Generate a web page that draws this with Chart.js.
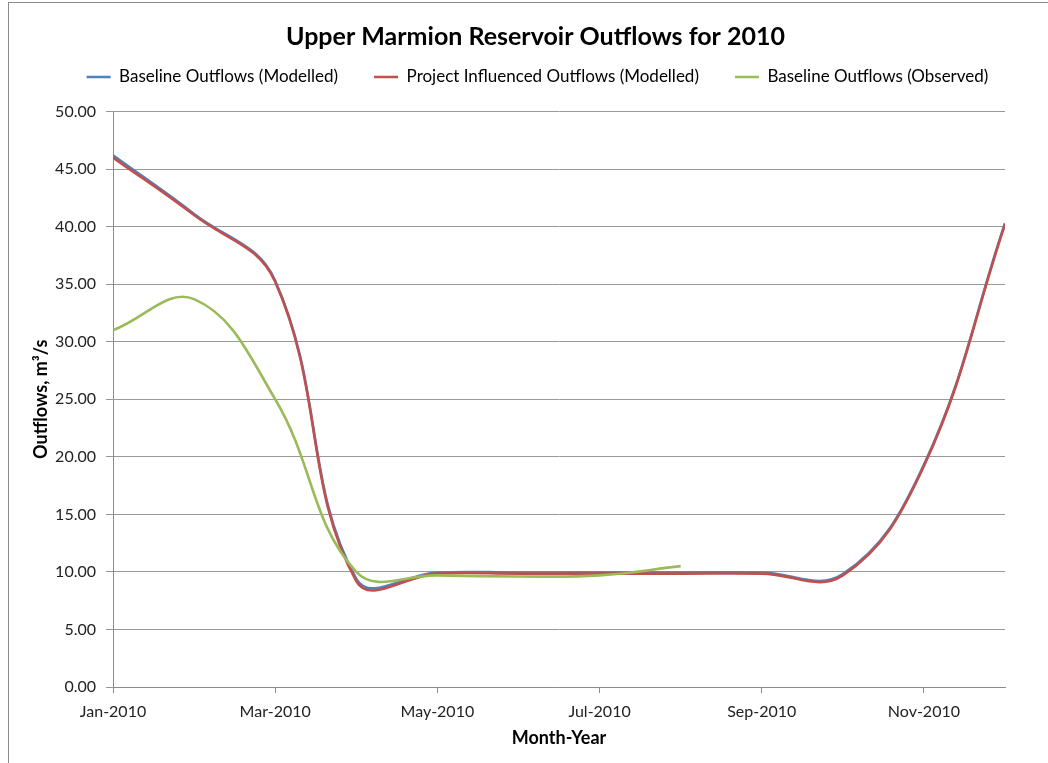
<!DOCTYPE html>
<html>
<head>
<meta charset="utf-8">
<script src="https://cdn.jsdelivr.net/npm/chart.js@4"></script>
<style>
    html, body { margin: 0; padding: 0; background: #ffffff; }
    #wrap { position: relative; width: 1048px; height: 763px; }
</style>
</head>
<body>
<div id="wrap"><canvas id="chart" width="1048" height="763"></canvas></div>
<script>

// month labels on the x axis (only the even ones get a tick)
const months = ["Jan-2010", "Feb-2010", "Mar-2010", "Apr-2010", "May-2010", "Jun-2010",
                "Jul-2010", "Aug-2010", "Sep-2010", "Oct-2010", "Nov-2010", "Dec-2010"];

// outflows, m3/s
const baselineModelled = [46.2, 41.1, 35.3, 9.4, 9.95, 9.95, 9.95, 9.95, 9.95, 9.8, 19.3, 40.3];
const projectModelled  = [46.0, 41.0, 35.2, 9.2, 9.85, 9.85, 9.85, 9.85, 9.85, 9.7, 19.2, 40.2];
const baselineObserved = [31.0, 33.7, 25.0, 10.0, 9.7, 9.6, 9.7, 10.5];

const toPoints = (arr) => arr.map((v, i) => ({ x: i, y: v }));

const FONT = "Lato, 'Open Sans', sans-serif";

// white background + the grey chart frame (left and top edges show)
let frame = {
    id: 'frame',
    beforeDraw: function(chart) {
        let ctx = chart.ctx;
        ctx.save();
        ctx.fillStyle = "#ffffff";
        ctx.fillRect(0, 0, chart.width, chart.height);
        ctx.strokeStyle = "#8c8c8c";
        ctx.lineWidth = 1;
        ctx.strokeRect(8.5, 2.5, chart.width + 20, chart.height + 20);
        ctx.restore();
    }
};

// make the legend box taller so the plot starts lower,
// and push title + legend a bit to the right like the original
let headerLayout = {
    id: 'headerLayout',
    beforeInit: function(chart) {
        const fit = chart.legend.fit;
        chart.legend.fit = function() {
            fit.bind(chart.legend)();
            this.height = 79;
        };
    },
    afterLayout: function(chart) {
        chart.titleBlock.left += 18;
        chart.titleBlock.right += 18;
        chart.legend.left += 20;
        chart.legend.right += 20;
    }
};

let chart = new Chart(document.getElementById('chart'), {
    type: 'line',
    data: {
        datasets: [
            {
                label: 'Baseline Outflows (Modelled)',
                data: toPoints(baselineModelled),
                borderColor: '#4F81BD',
                backgroundColor: '#4F81BD',
                order: 2
            },
            {
                label: 'Project Influenced Outflows (Modelled)',
                data: toPoints(projectModelled),
                borderColor: '#C0504D',
                backgroundColor: '#C0504D',
                order: 1
            },
            {
                label: 'Baseline Outflows (Observed)',
                data: toPoints(baselineObserved),
                borderColor: '#9BBB59',
                backgroundColor: '#9BBB59',
                order: 0
            }
        ]
    },
    options: {
        responsive: false,
        animation: false,
        devicePixelRatio: 1,
        elements: {
            point: { radius: 0, borderWidth: 2.5 },   // borderWidth only used by the legend line
            line: { borderWidth: 2.6, tension: 0.4, fill: false }
        },
        layout: {
            padding: { left: 30, right: 43, top: 22, bottom: 14 }
        },
        plugins: {
            tooltip: { enabled: false },
            title: {
                display: true,
                text: 'Upper Marmion Reservoir Outflows for 2010',
                color: '#000000',
                font: { family: FONT, size: 25, weight: 'bold' },
                padding: { top: 0, bottom: -19.5 }
            },
            legend: {
                display: true,
                position: 'top',
                align: 'center',
                labels: {
                    sort: (a, b) => a.datasetIndex - b.datasetIndex,
                    color: '#000000',
                    font: { family: FONT, size: 17 },
                    usePointStyle: true,
                    pointStyle: 'line',
                    pointStyleWidth: 24,
                    padding: 36
                }
            }
        },
        scales: {
            x: {
                type: 'linear',
                min: 0,
                max: months.length - 1,
                grid: {
                    display: true,
                    drawOnChartArea: false,
                    drawTicks: true,
                    tickLength: 6,
                    color: '#8c8c8c'
                },
                border: { display: true, color: '#8c8c8c', width: 1 },
                ticks: {
                    stepSize: 2,
                    includeBounds: false,
                    autoSkip: false,
                    maxRotation: 0,
                    color: '#222222',
                    font: { family: FONT, size: 16 },
                    padding: 9,
                    callback: (v) => months[v]
                },
                title: {
                    display: true,
                    text: 'Month-Year',
                    color: '#000000',
                    font: { family: FONT, size: 18, weight: 'bold' },
                    padding: { top: 0, bottom: 0 }
                },
                afterFit: function(scale) {
                    scale.height = 62;
                }
            },
            y: {
                min: 0,
                max: 50,
                grid: {
                    color: '#999999',
                    lineWidth: 1,
                    drawTicks: true,
                    tickLength: 7
                },
                border: { display: true, color: '#8c8c8c', width: 1 },
                ticks: {
                    stepSize: 5,
                    color: '#222222',
                    font: { family: FONT, size: 16 },
                    padding: 10,
                    callback: (v) => v.toFixed(2)
                },
                title: {
                    display: true,
                    text: 'Outflows, m³/s',
                    color: '#000000',
                    font: { family: FONT, size: 18, weight: 'bold' },
                    padding: { top: 0, bottom: 4 }
                },
                afterFit: function(scale) {
                    scale.width = 83;
                }
            }
        }
    },
    plugins: [frame, headerLayout]
});
</script>
</body>
</html>
